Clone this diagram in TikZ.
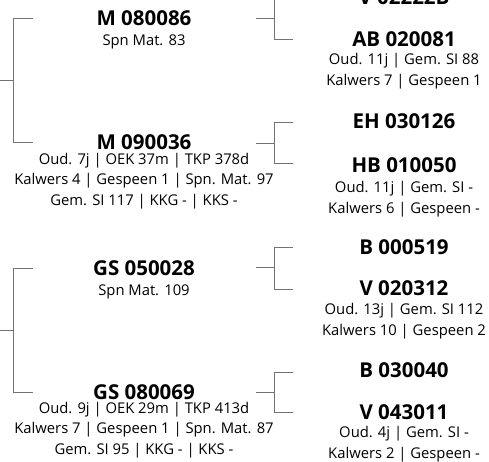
\documentclass[tikz,border=0pt]{standalone}
\usepackage{fontspec}
\setmainfont{Open Sans}
\usetikzlibrary{positioning}

\tikzset{
  kop/.style={font=\fontsize{20.5}{22}\selectfont\bfseries, anchor=base, inner sep=0pt},
  info/.style={font=\fontsize{14.8}{20.3}\selectfont, anchor=base, align=center, inner sep=0pt},
  lijn/.style={draw=black!55, line width=1pt},
}

\begin{document}
\begin{tikzpicture}[x=1pt, y=-1pt]
\useasboundingbox (0,0) rectangle (489,461);

% ── column centres ──────────────────────────────
\def\xl{144}  \def\xr{404}

% ── left column (parents) ───────────────────────
% info nodes sit on the baseline of their last line
\node[kop]  (m080086)  at (\xl,25)  {M 080086};
\node[info] (m080086i) at (\xl,45)  {Spn Mat. 83};

\node[kop]  (m090036)  at (\xl,149) {M 090036};
\node[info] (m090036i) at (\xl,205) {Oud. 7j | OEK 37m | TKP 378d\\Kalwers 4 | Gespeen 1 | Spn. Mat. 97\\Gem. SI 117 | KKG - | KKS -};

\node[kop]  (gs050028)  at (\xl,275) {GS 050028};
\node[info] (gs050028i) at (\xl,295) {Spn Mat. 109};

\node[kop]  (gs080069)  at (\xl,399) {GS 080069};
\node[info] (gs080069i) at (\xl,454) {Oud. 9j | OEK 29m | TKP 413d\\Kalwers 7 | Gespeen 1 | Spn. Mat. 87\\Gem. SI 95 | KKG - | KKS -};

% ── right column (grandparents) ─────────────────
\node[kop]  (v02222b)  at (\xr,4)   {V 02222B};

\node[kop]  (ab020081)  at (\xr,46)  {AB 020081};
\node[info] (ab020081i) at (\xr,85)  {Oud. 11j | Gem. SI 88\\Kalwers 7 | Gespeen 1};

\node[kop]  (eh030126)  at (\xr,128) {EH 030126};

\node[kop]  (hb010050)  at (\xr,172) {HB 010050};
\node[info] (hb010050i) at (\xr,213) {Oud. 11j | Gem. SI -\\Kalwers 6 | Gespeen -};

\node[kop]  (b000519)  at (\xr,254) {B 000519};

\node[kop]  (v020312)  at (\xr,295) {V 020312};
\node[info] (v020312i) at (\xr,335) {Oud. 13j | Gem. SI 112\\Kalwers 10 | Gespeen 2};

\node[kop]  (b030040)  at (\xr,377) {B 030040};

\node[kop]  (v043011)  at (\xr,419) {V 043011};
\node[info] (v043011i) at (\xr,458) {Oud. 4j | Gem. SI -\\Kalwers 2 | Gespeen -};

% ── brackets: stub start / spine / arm end, top / mid / bottom ──
\foreach \i/\xs/\xv/\xa/\yt/\ym/\yb in {
    1/0/13.3/33/18/80/142,
    2/0/13.3/33/268/330/392,
    3/256/274/293/-3/18/39,
    4/256/274/293/122/143/163,
    5/256/274/293/247/267/289,
    6/256/274/293/372/392/412} {
  \coordinate (s\i) at (\xs,\ym);
  \coordinate (v\i) at (\xv,\ym);
  \coordinate (t\i) at (\xa,\yt);
  \coordinate (b\i) at (\xa,\yb);
  \draw[lijn] (t\i) -- (t\i -| v\i) -- (b\i -| v\i) -- (b\i);
  \draw[lijn] (s\i) -- (v\i);
}

\end{tikzpicture}
\end{document}
